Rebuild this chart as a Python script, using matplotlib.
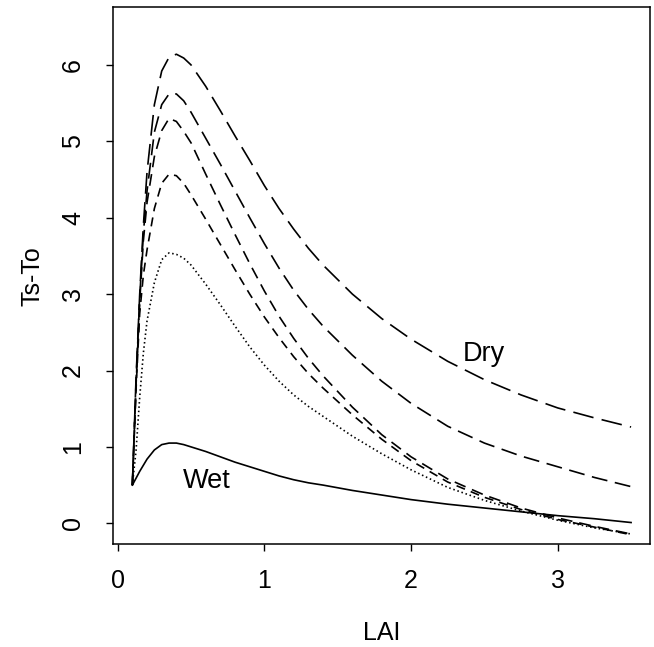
import matplotlib
matplotlib.use('Agg')
import matplotlib.pyplot as plt

plt.rcParams['font.family'] = ['Liberation Sans', 'DejaVu Sans']
plt.rcParams['lines.scale_dashes'] = False

lai = [0.10, 0.125, 0.15, 0.175, 0.20, 0.25, 0.30, 0.35, 0.40, 0.45, 0.50,
       0.60, 0.70, 0.80, 0.90, 1.00, 1.10, 1.20, 1.30, 1.40, 1.60, 1.80,
       2.00, 2.25, 2.50, 2.75, 3.00, 3.25, 3.50]

# Ts-To, driest (top) to wettest (bottom)
dry = [0.50, 1.90, 3.00, 3.90, 4.60, 5.48, 5.92, 6.10, 6.14, 6.09, 6.00,
       5.72, 5.40, 5.07, 4.75, 4.42, 4.12, 3.85, 3.60, 3.38, 3.00, 2.68,
       2.41, 2.12, 1.88, 1.68, 1.51, 1.38, 1.26]
mid1 = [0.50, 1.85, 2.95, 3.80, 4.35, 5.12, 5.48, 5.62, 5.62, 5.53, 5.38,
        5.04, 4.70, 4.35, 4.00, 3.66, 3.34, 3.05, 2.80, 2.58, 2.20, 1.86,
        1.57, 1.27, 1.05, 0.88, 0.74, 0.60, 0.48]
mid2 = [0.50, 1.80, 2.90, 3.70, 4.20, 4.80, 5.14, 5.30, 5.26, 5.13, 4.98,
        4.57, 4.17, 3.78, 3.40, 3.04, 2.71, 2.42, 2.16, 1.93, 1.52, 1.16,
        0.87, 0.58, 0.37, 0.20, 0.07, -0.04, -0.14]
mid3 = [0.50, 1.75, 2.75, 3.25, 3.58, 4.12, 4.45, 4.57, 4.55, 4.45, 4.30,
        3.98, 3.65, 3.32, 3.00, 2.70, 2.43, 2.18, 1.96, 1.77, 1.42, 1.10,
        0.82, 0.54, 0.34, 0.18, 0.05, -0.05, -0.15]
mid4 = [0.50, 0.95, 1.65, 2.23, 2.65, 3.15, 3.45, 3.54, 3.52, 3.47, 3.38,
        3.13, 2.86, 2.58, 2.31, 2.07, 1.86, 1.68, 1.53, 1.40, 1.14, 0.91,
        0.70, 0.47, 0.30, 0.16, 0.04, -0.06, -0.14]
wet = [0.50, 0.59, 0.68, 0.76, 0.84, 0.96, 1.03, 1.05, 1.05, 1.03, 1.00,
       0.94, 0.87, 0.80, 0.74, 0.68, 0.62, 0.57, 0.53, 0.50, 0.43, 0.37,
       0.31, 0.25, 0.20, 0.15, 0.10, 0.06, 0.01]

xticks = [0, 1, 2, 3]
yticks = [0, 1, 2, 3, 4, 5, 6]

fig = plt.figure(figsize=(6.54, 6.47), dpi=100)
ax = fig.add_axes([0.1728, 0.1592, 0.8211, 0.8295])

lw = 1.2
ax.plot(lai, dry, color='black', lw=lw, dashes=(15, 6))
ax.plot(lai, mid1, color='black', lw=lw, dashes=(11.5, 5.5))
ax.plot(lai, mid2, color='black', lw=lw, dashes=(8.5, 5))
ax.plot(lai, mid3, color='black', lw=lw, dashes=(6.5, 4.5))
ax.plot(lai, mid4, color='black', lw=lw, dashes=(1.1, 2.0))
ax.plot(lai, wet, color='black', lw=lw)

ax.text(2.497, 2.12, 'Dry', fontsize=19.5, ha='center', va='baseline')
ax.text(0.609, 0.46, 'Wet', fontsize=19.5, ha='center', va='baseline')

ax.set_xlim(-0.032, 3.629)
ax.set_ylim(-0.271, 6.754)
ax.set_xticks(xticks)
ax.set_xticklabels([str(t) for t in xticks])
ax.set_yticks(yticks)
ax.set_yticklabels([str(t) for t in yticks], rotation=90, va='center')
ax.tick_params(direction='out', length=5, width=1.0, labelsize=18)
ax.tick_params(axis='x', pad=13)
ax.tick_params(axis='y', pad=15)

for s in ax.spines.values():
    s.set_linewidth(1.1)

ax.set_xlabel('LAI', fontsize=18, labelpad=20)
ax.set_ylabel('Ts-To', fontsize=18, labelpad=12)

fig.savefig('out.png', dpi=100)
